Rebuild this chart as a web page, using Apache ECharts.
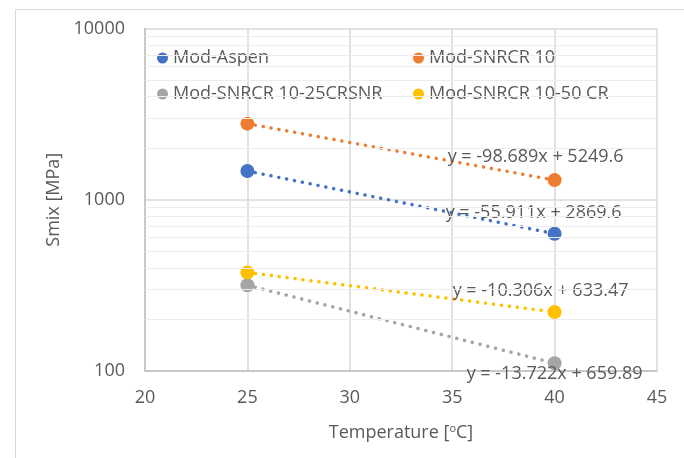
<!DOCTYPE html>
<html>
<head>
<meta charset="utf-8">
<script src="https://cdn.jsdelivr.net/npm/echarts@6/dist/echarts.min.js"></script>
<style>
  html, body { margin: 0; padding: 0; background: #fff; }
  #chart { width: 684px; height: 458px; }
</style>
</head>
<body>
<div id="chart"></div>
<script>
// data
const temperatures = [25, 40];
const seriesNames = ['Mod-Aspen', 'Mod-SNRCR 10', 'Mod-SNRCR 10-25CRSNR', 'Mod-SNRCR 10-50 CR'];
const modAspen = [1472, 633];
const modSnrcr10 = [2782, 1302];
const modSnrcr25 = [317, 111];
const modSnrcr50 = [376, 221];
const equations = [
  'y = -55.911x + 2869.6',
  'y = -98.689x + 5249.6',
  'y = -13.722x + 659.89',
  'y = -10.306x + 633.47'
];
const xMin = 20, xMax = 45, xStep = 5;
const yMin = 100, yMax = 10000;
const minorGridValues = [200, 300, 400, 500, 600, 700, 800, 900, 2000, 3000, 4000, 5000, 6000, 7000, 8000, 9000];

const values = [modAspen, modSnrcr10, modSnrcr25, modSnrcr50];
const colors = ['#4472C4', '#ED7D31', '#A5A5A5', '#FFC000'];
const labelOffsets = [[-21, -21], [-19, -23], [0, 11], [-14, -21]];
const font = 'Open Sans';
const textColor = '#595959';

const chart = echarts.init(document.getElementById('chart'));

const series = [];
// dotted trendlines first so the dots sit under the markers
values.forEach((vals, i) => {
  series.push({
    name: seriesNames[i] + ' trend',
    type: 'line',
    data: temperatures.map((t, j) => [t, vals[j]]),
    symbol: 'none',
    silent: true,
    z: 2,
    lineStyle: { color: colors[i], width: 3.5, type: [0.1, 7.9], cap: 'round' }
  });
});
values.forEach((vals, i) => {
  series.push({
    name: seriesNames[i],
    type: 'scatter',
    symbolSize: 14,
    z: 3,
    itemStyle: { color: colors[i], opacity: 1 },
    data: temperatures.map((t, j) => {
      const item = { value: [t, vals[j]] };
      if (j === temperatures.length - 1) {
        item.label = {
          show: true,
          position: 'inside',
          offset: labelOffsets[i],
          formatter: equations[i],
          color: textColor,
          fontFamily: font,
          fontSize: 18
        };
      }
      return item;
    })
  });
});
// minor horizontal gridlines
series.push({
  type: 'line',
  data: [],
  silent: true,
  z: 1,
  markLine: {
    silent: true,
    symbol: 'none',
    label: { show: false },
    lineStyle: { color: '#ededed', width: 1, type: 'solid' },
    data: minorGridValues.map(v => ({ yAxis: v }))
  }
});

const legendText = { color: textColor, fontFamily: font, fontSize: 18, lineHeight: 20 };

const option = {
  animation: false,
  backgroundColor: '#fff',
  textStyle: { fontFamily: font },
  graphic: [{
    type: 'rect',
    left: 13, top: 7,
    shape: { width: 700, height: 500 },
    style: { fill: 'none', stroke: '#d9d9d9', lineWidth: 1 },
    silent: true
  }],
  grid: { left: 145, right: 27, top: 28.5, bottom: 87 },
  legend: [
    {
      orient: 'vertical', left: 152, top: 43, itemGap: 16,
      icon: 'circle', itemWidth: 11, itemHeight: 11,
      data: [seriesNames[0], seriesNames[2]],
      textStyle: legendText
    },
    {
      orient: 'vertical', left: 408, top: 43, itemGap: 16,
      icon: 'circle', itemWidth: 11, itemHeight: 11,
      data: [seriesNames[1], seriesNames[3]],
      textStyle: legendText
    }
  ],
  xAxis: {
    type: 'value',
    min: xMin, max: xMax, interval: xStep,
    name: 'Temperature [{sup|o}C]',
    nameLocation: 'middle',
    nameGap: 52,
    nameTextStyle: {
      color: textColor, fontFamily: font, fontSize: 18,
      rich: { sup: { fontSize: 11, verticalAlign: 'top', padding: [0, 0, 8, 0], color: textColor, fontFamily: font } }
    },
    axisLine: { show: true, onZero: false, lineStyle: { color: '#bfbfbf', width: 1.5 } },
    axisTick: { show: false },
    axisLabel: { color: textColor, fontFamily: font, fontSize: 18, margin: 18 },
    splitLine: { show: true, lineStyle: { color: '#d9d9d9', width: 1.5 } }
  },
  yAxis: {
    type: 'log',
    logBase: 10,
    min: yMin, max: yMax,
    name: 'Smix [MPa]',
    nameLocation: 'middle',
    nameGap: 80,
    nameTextStyle: { color: textColor, fontFamily: font, fontSize: 18 },
    axisLine: { show: true, lineStyle: { color: '#bfbfbf', width: 1.5 } },
    axisTick: { show: false },
    axisLabel: {
      color: textColor, fontFamily: font, fontSize: 18, margin: 20,
      formatter: v => String(Math.round(v))
    },
    splitLine: { show: true, lineStyle: { color: '#d9d9d9', width: 1.5 } }
  },
  series: series
};

chart.setOption(option);
</script>
</body>
</html>
